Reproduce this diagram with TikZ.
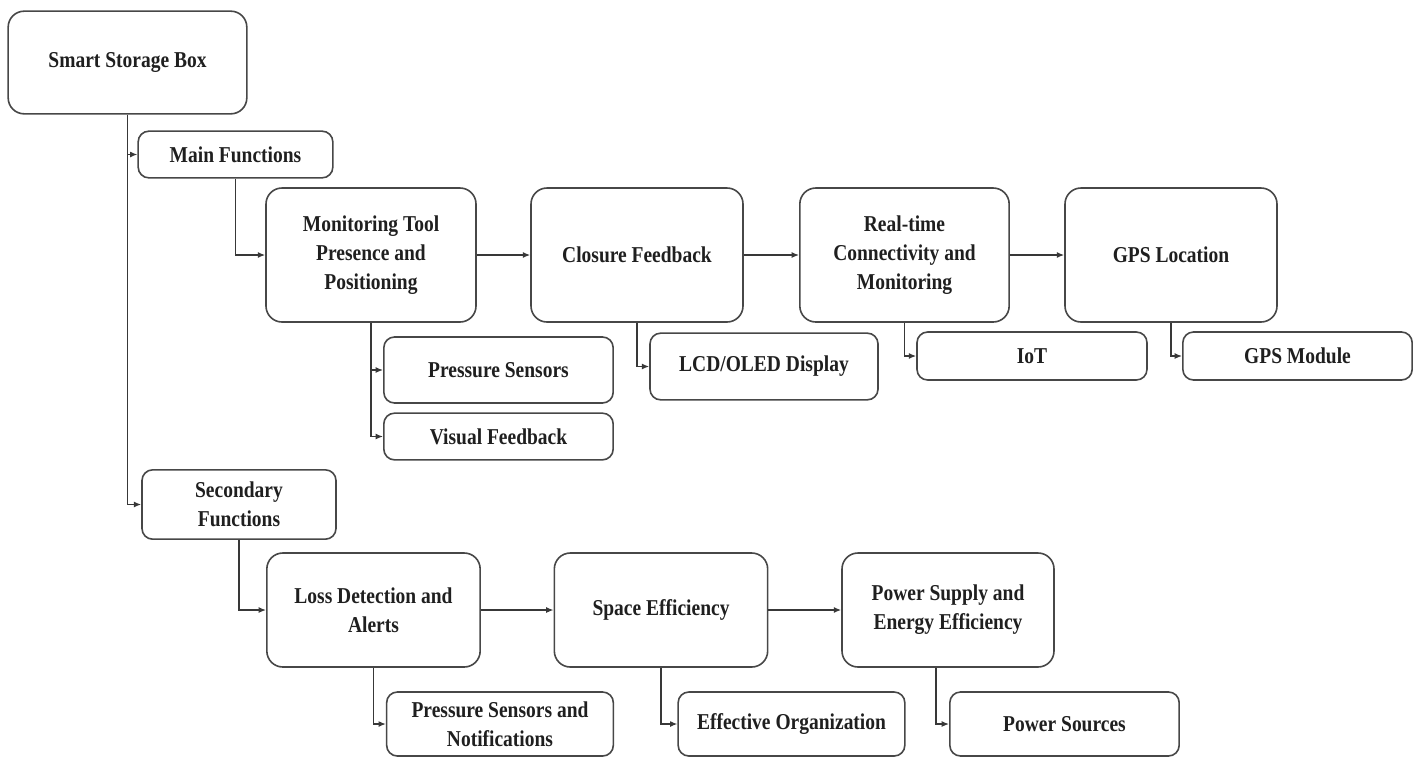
\documentclass[tikz,border=0pt]{standalone}
\usepackage{fontspec}
\setmainfont{Liberation Serif}[FakeStretch=0.86]
\usetikzlibrary{arrows.meta}

\begin{document}
\begin{tikzpicture}[x=0.75pt,y=-0.75pt,
  fbox/.style={rectangle,draw=black!72,line width=1.2pt,align=center,inner sep=2pt,
    text=black!88,font=\bfseries\fontsize{17}{21.75}\selectfont},
  bigbox/.style={fbox,rounded corners=12pt},
  smallbox/.style={fbox,rounded corners=8pt},
  link/.style={draw=black!78,line width=1pt,-{Latex[length=5.5pt,width=4.5pt]}}]
\useasboundingbox (0,0) rectangle (1421,758);

\path (127.5,62.5) node[bigbox,minimum width=179pt,minimum height=77pt] (box) {Smart Storage Box};
\path (235.5,154.5) node[smallbox,minimum width=146pt,minimum height=35pt] (mainf) {Main Functions};
\path (239,504.5) node[smallbox,minimum width=145.5pt,minimum height=52pt] (secf) {Secondary\\Functions};

\path (371,255) node[bigbox,minimum width=157.5pt,minimum height=100.5pt] (mon) {Monitoring Tool\\Presence and\\Positioning};
\path (637,255) node[bigbox,minimum width=159pt,minimum height=100.5pt] (clos) {Closure Feedback};
\path (904.5,255) node[bigbox,minimum width=157pt,minimum height=100.5pt] (rtime) {Real-time\\Connectivity and\\Monitoring};
\path (1171,255) node[bigbox,minimum width=159pt,minimum height=100.5pt] (gpsloc) {GPS Location};

\path (498.5,370) node[smallbox,minimum width=172pt,minimum height=49.5pt] (psens) {Pressure Sensors};
\path (498.5,436.5) node[smallbox,minimum width=172pt,minimum height=35pt] (visfb) {Visual Feedback};
\path (764,366.5) node[smallbox,minimum width=171pt,minimum height=50pt] (lcd) {LCD/OLED Display};
\path (1032,356) node[smallbox,minimum width=172.5pt,minimum height=36pt] (iot) {IoT};
\path (1297.5,356) node[smallbox,minimum width=172pt,minimum height=36pt] (gpsmod) {GPS Module};

\path (373.5,610) node[bigbox,minimum width=160pt,minimum height=85.5pt] (loss) {Loss Detection and\\Alerts};
\path (661,610) node[bigbox,minimum width=160pt,minimum height=85.5pt] (space) {Space Efficiency};
\path (948,610) node[bigbox,minimum width=159pt,minimum height=85.5pt] (power) {Power Supply and\\Energy Efficiency};

\path (500,724) node[smallbox,minimum width=170pt,minimum height=48pt] (psnot) {Pressure Sensors and\\Notifications};
\path (791.5,724) node[smallbox,minimum width=170pt,minimum height=48pt] (efforg) {Effective Organization};
\path (1064.5,724) node[smallbox,minimum width=172pt,minimum height=48pt] (psrc) {Power Sources};

\draw[link] (box.south) |- (mainf);
\draw[link] (box.south) |- (secf);
\draw[link] (mainf.south) |- (mon);
\draw[link] (secf.south) |- (loss);

\draw[link] (mon) -- (clos);
\draw[link] (clos) -- (rtime);
\draw[link] (rtime) -- (gpsloc);
\draw[link] (loss) -- (space);
\draw[link] (space) -- (power);

\draw[link] (mon.south) |- (psens);
\draw[link] (mon.south) |- (visfb);
\draw[link] (clos.south) |- (lcd);
\draw[link] (rtime.south) |- (iot);
\draw[link] (gpsloc.south) |- (gpsmod);
\draw[link] (loss.south) |- (psnot);
\draw[link] (space.south) |- (efforg);
\draw[link] ([xshift=-9pt]power.south) |- (psrc);
\end{tikzpicture}
\end{document}
